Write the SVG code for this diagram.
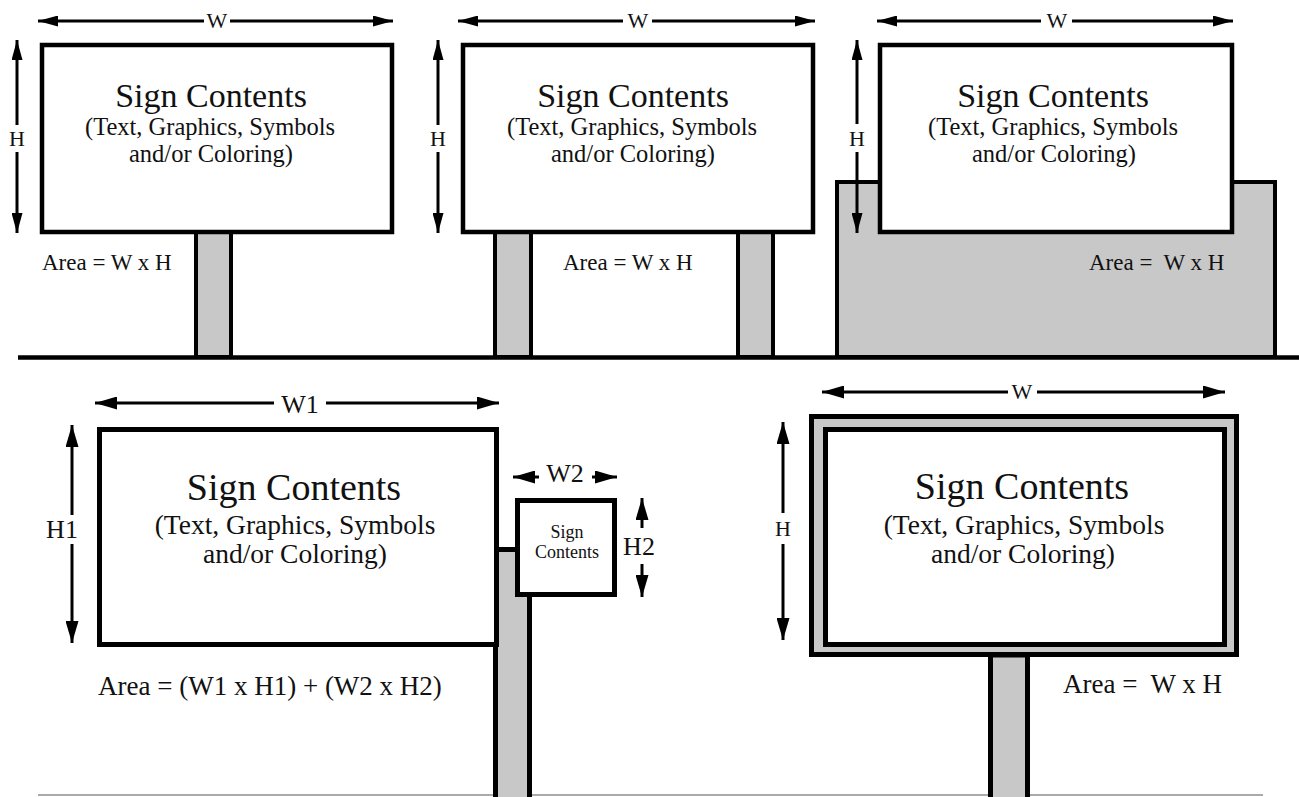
<svg xmlns="http://www.w3.org/2000/svg" width="1299" height="797" viewBox="0 0 1299 797" font-family="'Times New Roman', 'Liberation Serif', 'DejaVu Serif'">
<style>
.sign{fill:#fff;stroke:#000;stroke-width:4.5}
.signb{fill:#fff;stroke:#000;stroke-width:5}
.post{fill:#c8c8c8;stroke:#000;stroke-width:4}
.postb{fill:#c8c8c8;stroke:#000;stroke-width:5}
.dim{stroke:#000;stroke-width:3;fill:none}
text{font-family:'Times New Roman','Liberation Serif','DejaVu Serif';fill:#111}
.t1{font-size:34px;text-anchor:middle}
.t2{font-size:24.5px;text-anchor:middle}
.b1{font-size:38px;text-anchor:middle}
.b2{font-size:27.5px;text-anchor:middle}
.sm{font-size:18px;text-anchor:middle}
.lbl{font-size:22px;text-anchor:middle}
.lblb{font-size:26px;text-anchor:middle}
.area{font-size:23px;white-space:pre}
.areab{font-size:27px;white-space:pre}
</style>
<defs>
<marker id="ah" viewBox="0 0 20 11" refX="20" refY="5.5" markerWidth="20" markerHeight="11" markerUnits="userSpaceOnUse" orient="auto">
<path d="M0,0 L20,5.5 L0,11 Z" fill="#000"/>
</marker>
<marker id="ahb" viewBox="0 0 22 13" refX="22" refY="6.5" markerWidth="22" markerHeight="13" markerUnits="userSpaceOnUse" orient="auto">
<path d="M0,0 L22,6.5 L0,13 Z" fill="#000"/>
</marker>
</defs>
<rect x="0" y="0" width="1299" height="797" fill="#fff"/>

<g id="ground">
<line x1="18" y1="357.5" x2="1299" y2="357.5" stroke="#000" stroke-width="4.5"/>
<line x1="38" y1="795" x2="1263" y2="795" stroke="#aaa" stroke-width="2"/>
</g>

<g id="post1"><rect class="post" x="196" y="232" width="35" height="125"/></g>
<g id="sign1">
<rect class="sign" x="42" y="45" width="350" height="187"/>
<text class="t1" x="211" y="107">Sign Contents</text>
<text class="t2" x="210" y="135">(Text, Graphics, Symbols</text>
<text class="t2" x="211" y="162">and/or Coloring)</text>
</g>
<g id="area1"><text class="area" x="42" y="270">Area = W x H</text></g>

<g id="post2a"><rect class="post" x="495" y="232" width="36" height="125"/></g>
<g id="post2b"><rect class="post" x="738" y="232" width="35" height="125"/></g>
<g id="sign2">
<rect class="sign" x="463" y="45" width="350" height="187"/>
<text class="t1" x="633" y="107">Sign Contents</text>
<text class="t2" x="632" y="135">(Text, Graphics, Symbols</text>
<text class="t2" x="633" y="162">and/or Coloring)</text>
</g>
<g id="area2"><text class="area" x="563" y="270">Area = W x H</text></g>

<g id="base3"><rect class="post" x="837" y="182" width="438" height="175"/></g>
<g id="sign3">
<rect class="sign" x="880" y="45" width="352" height="187"/>
<text class="t1" x="1053" y="107">Sign Contents</text>
<text class="t2" x="1053" y="135">(Text, Graphics, Symbols</text>
<text class="t2" x="1054" y="162">and/or Coloring)</text>
</g>
<g id="area3"><text class="area" x="1089" y="270">Area =  W x H</text></g>

<g id="post4"><rect class="postb" x="495.5" y="549.5" width="34" height="255"/></g>
<g id="sign4">
<rect class="signb" x="99.5" y="429.5" width="397" height="215"/>
<text class="b1" x="294" y="500">Sign Contents</text>
<text class="b2" x="295" y="534">(Text, Graphics, Symbols</text>
<text class="b2" x="295" y="563">and/or Coloring)</text>
</g>
<g id="sign4b">
<rect class="signb" x="517.5" y="500.5" width="97" height="94"/>
<text class="sm" x="567" y="538">Sign</text>
<text class="sm" x="567" y="558">Contents</text>
</g>
<g id="area4"><text class="areab" x="98" y="695">Area = (W1 x H1) + (W2 x H2)</text></g>

<g id="post5"><rect class="postb" x="990.5" y="655" width="37" height="150"/></g>
<g id="sign5">
<rect x="811.5" y="416.5" width="425" height="238" fill="#c8c8c8" stroke="#000" stroke-width="5"/>
<rect class="signb" x="825.5" y="429.5" width="399" height="215"/>
<text class="b1" x="1022" y="499">Sign Contents</text>
<text class="b2" x="1024" y="534">(Text, Graphics, Symbols</text>
<text class="b2" x="1023" y="563">and/or Coloring)</text>
</g>
<g id="area5"><text class="areab" x="1063" y="693">Area =  W x H</text></g>

<g id="connectors">
<line class="dim" x1="204" y1="21" x2="38" y2="21" marker-end="url(#ah)"/>
<line class="dim" x1="230" y1="21" x2="393" y2="21" marker-end="url(#ah)"/>
<line class="dim" x1="17" y1="125" x2="17" y2="40" marker-end="url(#ah)"/>
<line class="dim" x1="17" y1="152" x2="17" y2="233" marker-end="url(#ah)"/>

<line class="dim" x1="623" y1="21" x2="458" y2="21" marker-end="url(#ah)"/>
<line class="dim" x1="652" y1="21" x2="815" y2="21" marker-end="url(#ah)"/>
<line class="dim" x1="438" y1="125" x2="438" y2="40" marker-end="url(#ah)"/>
<line class="dim" x1="438" y1="152" x2="438" y2="233" marker-end="url(#ah)"/>

<line class="dim" x1="1041" y1="21" x2="877" y2="21" marker-end="url(#ah)"/>
<line class="dim" x1="1072" y1="21" x2="1233" y2="21" marker-end="url(#ah)"/>
<line class="dim" x1="857" y1="124" x2="857" y2="40" marker-end="url(#ah)"/>
<line class="dim" x1="857" y1="152" x2="857" y2="233" marker-end="url(#ah)"/>

<line class="dim" x1="274" y1="403" x2="95" y2="403" marker-end="url(#ahb)"/>
<line class="dim" x1="326" y1="403" x2="499" y2="403" marker-end="url(#ahb)"/>
<line class="dim" x1="72" y1="515" x2="72" y2="425" marker-end="url(#ahb)"/>
<line class="dim" x1="72" y1="544" x2="72" y2="643" marker-end="url(#ahb)"/>

<line class="dim" x1="539" y1="477" x2="513" y2="477" marker-end="url(#ahb)"/>
<line class="dim" x1="592" y1="477" x2="617" y2="477" marker-end="url(#ahb)"/>
<line class="dim" x1="642" y1="528" x2="642" y2="498" marker-end="url(#ahb)"/>
<line class="dim" x1="642" y1="564" x2="642" y2="597" marker-end="url(#ahb)"/>

<line class="dim" x1="1008" y1="392" x2="822" y2="392" marker-end="url(#ahb)"/>
<line class="dim" x1="1037" y1="392" x2="1225" y2="392" marker-end="url(#ahb)"/>
<line class="dim" x1="783" y1="513" x2="783" y2="422" marker-end="url(#ahb)"/>
<line class="dim" x1="783" y1="544" x2="783" y2="640" marker-end="url(#ahb)"/>
</g>

<g id="labels">
<text class="lbl" x="217" y="28">W</text>
<text class="lbl" x="17" y="146">H</text>
<text class="lbl" x="638" y="28">W</text>
<text class="lbl" x="438" y="146">H</text>
<text class="lbl" x="1057" y="28">W</text>
<text class="lbl" x="857" y="146">H</text>
<text class="lblb" x="300" y="413">W1</text>
<text class="lblb" x="62" y="538">H1</text>
<text class="lblb" x="565" y="482">W2</text>
<text class="lblb" x="639" y="555">H2</text>
<text class="lbl" x="1022" y="399">W</text>
<text class="lbl" x="783" y="536">H</text>
</g>
</svg>
